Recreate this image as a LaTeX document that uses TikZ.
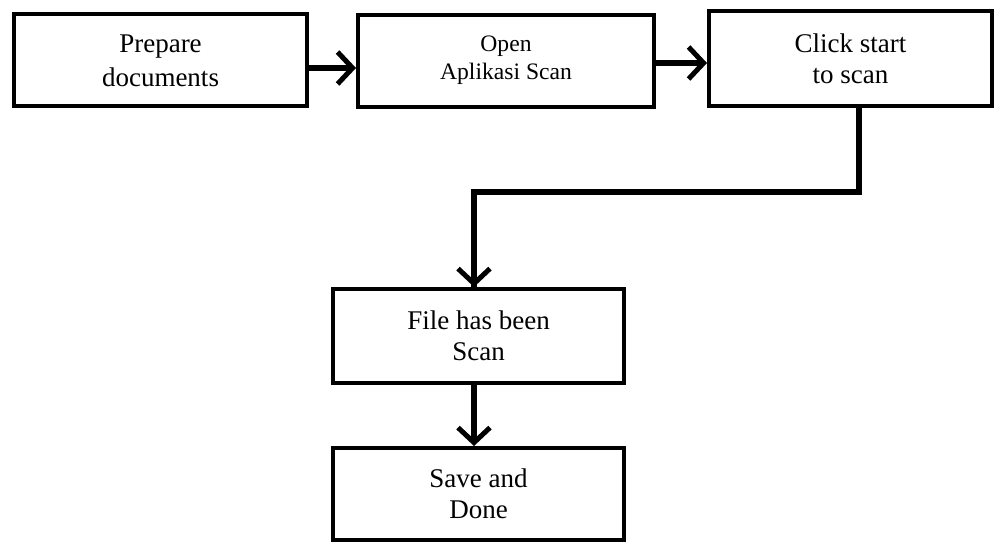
\documentclass[tikz,border=0pt]{standalone}
\usepackage{fontspec}
\setmainfont{Liberation Serif}
\usetikzlibrary{arrows.meta}

\tikzset{
  stepbox/.style={draw=black, line width=4pt, inner sep=0pt},
  steptext/.style={align=center, inner sep=0pt, font=\fontsize{27}{31}\selectfont},
  widetext/.style={align=center, inner sep=0pt, font=\fontsize{27}{34}\selectfont},
  smalltext/.style={align=center, inner sep=0pt, font=\fontsize{23.6}{28}\selectfont},
  flow/.style={line width=5.5pt, -{Straight Barb[length=15pt,width=32pt,line width=5pt]}},
  link/.style={line width=5.5pt}
}

\begin{document}
\begin{tikzpicture}[x=1pt,y=-1pt]
  \useasboundingbox (0,0) rectangle (998,543);

  % process boxes
  \node[stepbox, minimum width=293pt, minimum height=92pt] (b1) at (160.5,60) {};
  \node[stepbox, minimum width=296pt, minimum height=92pt] (b2) at (506,61) {};
  \node[stepbox, minimum width=283pt, minimum height=95pt] (b3) at (850.5,58.5) {};
  \node[stepbox, minimum width=291pt, minimum height=94pt] (b4) at (478.5,336) {};
  \node[stepbox, minimum width=291pt, minimum height=92pt] (b5) at (478.5,494) {};

  % box labels
  \node[widetext] (t1) at ([yshift=-1pt]b1.center) {Prepare\\documents};
  \node[smalltext] (t2) at ([yshift=1pt]b2.center) {Open\\Aplikasi Scan};
  \node[steptext] (t3) at ([yshift=0pt]b3.center) {Click start\\to scan};
  \node[steptext] (t4) at ([yshift=0pt]b4.center) {File has been\\Scan};
  \node[steptext] (t5) at ([yshift=0pt]b5.center) {Save and\\Done};

  % connectors
  \coordinate (bendA) at (859,192);
  \coordinate (bendB) at (474,192);
  \draw[flow] ([yshift=-8pt]b1.east) -- ([yshift=-8pt]b1.east -| b2.west);
  \draw[flow] ([yshift=-2pt]b2.east) -- ([yshift=-2pt]b2.east -| b3.west);
  \draw[link, line join=miter] (b3.south -| bendA) -- (bendA) -- (bendB) -- (bendB |- b4.north);
  \draw[flow] (bendB) -- (bendB |- b4.north);
  \draw[flow] (b4.south -| bendB) -- (b5.north -| bendB);
\end{tikzpicture}
\end{document}
